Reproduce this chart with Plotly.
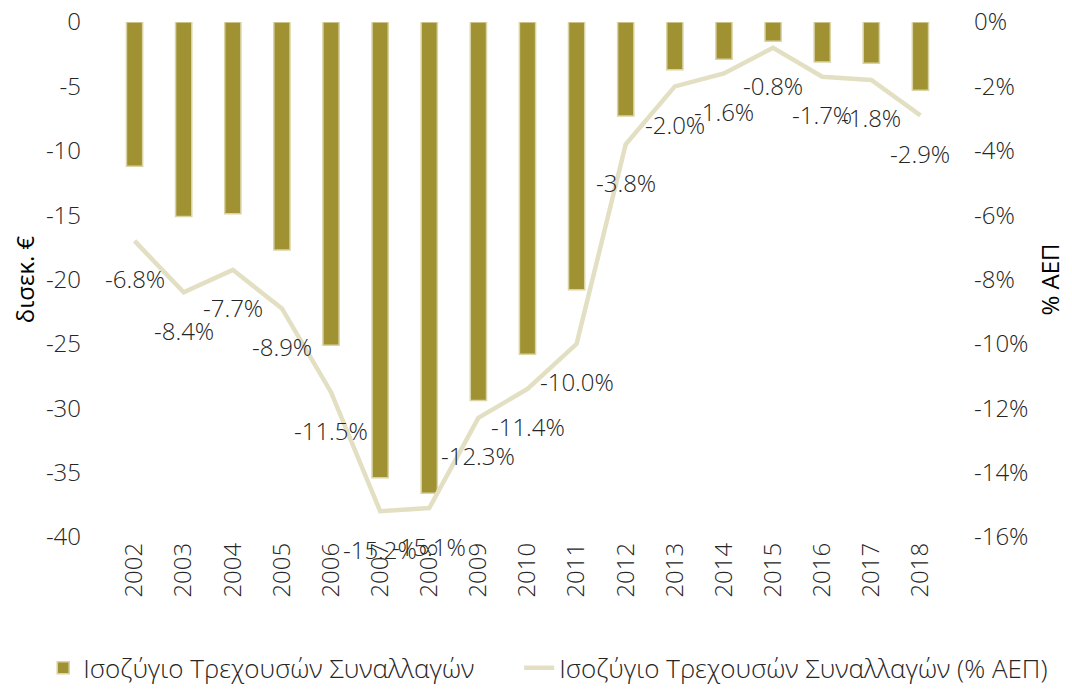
import plotly.graph_objects as go

years = list(range(2002, 2019))
balance_bn = [-11.2, -15.1, -14.9, -17.7, -25.1, -35.4, -36.6, -29.4, -25.8, -20.8,
              -7.3, -3.7, -2.9, -1.5, -3.1, -3.2, -5.3]
balance_pct = [-6.8, -8.4, -7.7, -8.9, -11.5, -15.2, -15.1, -12.3, -11.4, -10.0,
               -3.8, -2.0, -1.6, -0.8, -1.7, -1.8, -2.9]
left_ticks = [0, -5, -10, -15, -20, -25, -30, -35, -40]
right_ticks = [0, -2, -4, -6, -8, -10, -12, -14, -16]

FONT = "Open Sans"
TXT = "#262626"
FS = 24

fig = go.Figure()
fig.add_trace(go.Bar(
    x=years, y=balance_bn, name="Ισοζύγιο Τρεχουσών Συναλλαγών",
    marker=dict(color="#a09232", line=dict(color="#d9d3a6", width=1.5)),
    width=0.33, legend="legend",
))
fig.add_trace(go.Scatter(
    x=years, y=balance_pct, name="Ισοζύγιο Τρεχουσών Συναλλαγών (% ΑΕΠ)",
    mode="lines", line=dict(color="#e3dfc3", width=4.5), yaxis="y2", legend="legend2",
))
for yr, v in zip(years, balance_pct):
    fig.add_annotation(x=yr, y=v, xref="x", yref="y2", text=f"{v:.1f}%", showarrow=False,
                       yshift=-38, font=dict(family=FONT, size=FS, color=TXT, weight=300))

legend_common = dict(orientation="h", y=-0.254, yanchor="middle", xanchor="left",
                     font=dict(family=FONT, size=26, color=TXT, weight=300),
                     bgcolor="rgba(0,0,0,0)")

fig.update_layout(
    width=1072, height=690,
    margin=dict(l=102, r=135, t=14, b=161, autoexpand=False),
    plot_bgcolor="white", paper_bgcolor="white",
    font=dict(family=FONT, size=FS, color=TXT, weight=300),
    xaxis=dict(range=[years[0] - 0.5, years[-1] + 0.5], tickvals=years,
               ticktext=[str(y) for y in years], tickangle=-90, automargin=False,
               showgrid=False, showline=False, zeroline=False, ticks="",
               ticklabeloverflow="allow", tickfont=dict(size=FS, weight=300)),
    yaxis=dict(range=[-40, 0], tickvals=left_ticks, ticktext=[str(t) for t in left_ticks],
               showgrid=False, zeroline=False, showline=False, ticks="", automargin=False,
               ticklabelstandoff=28, ticklabeloverflow="allow",
               title=dict(text="δισεκ. €", font=dict(size=FS, color="black", weight=400), standoff=10)),
    yaxis2=dict(range=[-16, 0], tickvals=right_ticks, ticktext=[f"{t}%" for t in right_ticks],
                overlaying="y", side="right", showgrid=False, zeroline=False, showline=False,
                ticks="", automargin=False, ticklabelstandoff=28, ticklabeloverflow="allow",
                title=dict(text="% ΑΕΠ", font=dict(size=FS, color="black", weight=400), standoff=14)),
    legend=dict(x=-0.080, **legend_common),
    legend2=dict(x=0.490, **legend_common),
    showlegend=True,
)
fig.write_html("out.html")
